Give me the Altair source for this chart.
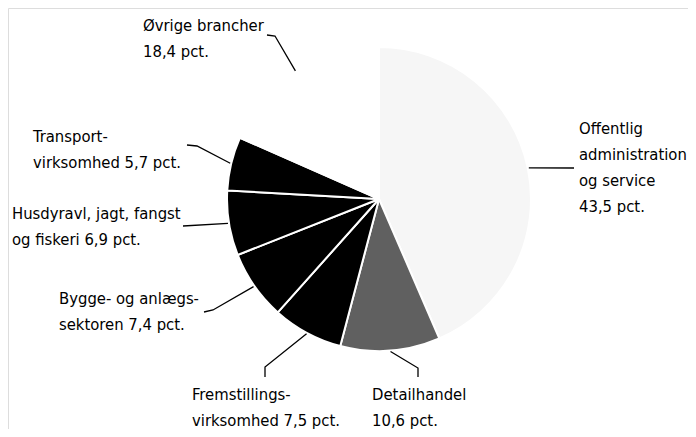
import math
import altair as alt
import pandas as pd

# ---- data ----
categories = [
    "Offentlig administration og service",
    "Detailhandel",
    "Fremstillingsvirksomhed",
    "Bygge- og anlægssektoren",
    "Husdyravl, jagt, fangst og fiskeri",
    "Transportvirksomhed",
    "Øvrige brancher",
]
shares = [43.5, 10.6, 7.5, 7.4, 6.9, 5.7, 18.4]
label_text = [
    "Offentlig\nadministration\nog service\n43,5 pct.",
    "Detailhandel\n10,6 pct.",
    "Fremstillings-\nvirksomhed 7,5 pct.",
    "Bygge- og anlægs-\nsektoren 7,4 pct.",
    "Husdyravl, jagt, fangst\nog fiskeri 6,9 pct.",
    "Transport-\nvirksomhed 5,7 pct.",
    "Øvrige brancher\n18,4 pct.",
]

# ---- styles / layout (chart pixel coordinates) ----
fills = ["#f6f6f6", "#606060", "#000000", "#000000", "#000000", "#000000", "#ffffff"]
W, H = 680, 421
CX, CY, R = 371, 191, 152
LEAD_R = 153
label_x = [571, 364, 184, 51, 4, 25, 135]
label_y = [126, 392, 392, 296, 211, 134, 23]
leader_elbow = [(566, 160), (410, 360), (257, 359), (205, 302), (175, 218), (189, 138), (267, 28)]
leader_end = [(566, 160), (410, 369), (257, 369), (196, 304), (175, 218), (179, 137), (259, 27)]

pie_df = pd.DataFrame({"category": categories, "share": shares, "idx": list(range(len(shares)))})
label_df = pd.DataFrame({"category": categories, "label": label_text, "lx": label_x, "ly": label_y})

rows = []
cum = 0.0
for i, s in enumerate(shares):
    mid = (cum + s / 2) / 100 * 2 * math.pi
    cum += s
    sx = CX + LEAD_R * math.sin(mid)
    sy = CY - LEAD_R * math.cos(mid)
    pts = [(sx, sy), leader_elbow[i], leader_end[i]]
    for k, (px, py) in enumerate(pts):
        rows.append({"category": categories[i], "step": k, "px": px, "py": py})
lead_df = pd.DataFrame(rows)

xs = alt.Scale(domain=[0, W], nice=False, zero=False)
ys = alt.Scale(domain=[0, H], nice=False, zero=False, reverse=True)

arc = alt.Chart(pie_df).mark_arc(radius=R, stroke="white", strokeWidth=2).encode(
    theta=alt.Theta("share:Q", stack=True),
    order=alt.Order("idx:Q"),
    color=alt.Color("category:N", scale=alt.Scale(domain=categories, range=fills), legend=None),
    x=alt.value(CX),
    y=alt.value(CY),
)

leaders = alt.Chart(lead_df).mark_line(color="black", strokeWidth=1.3).encode(
    x=alt.X("px:Q", scale=xs, axis=None),
    y=alt.Y("py:Q", scale=ys, axis=None),
    detail="category:N",
    order="step:Q",
)

labels = alt.Chart(label_df).mark_text(
    align="left", baseline="alphabetic", lineBreak="\n", lineHeight=26,
    fontSize=16.5, font="DejaVu Sans Condensed", color="black",
).encode(
    x=alt.X("lx:Q", scale=xs, axis=None),
    y=alt.Y("ly:Q", scale=ys, axis=None),
    text="label:N",
)

chart = alt.layer(arc, leaders, labels).properties(
    width=W, height=H, padding=0, autosize="none"
).configure_view(strokeWidth=0).configure(background="white")

chart.save("out.html", embed_options={"renderer": "svg", "actions": False})
